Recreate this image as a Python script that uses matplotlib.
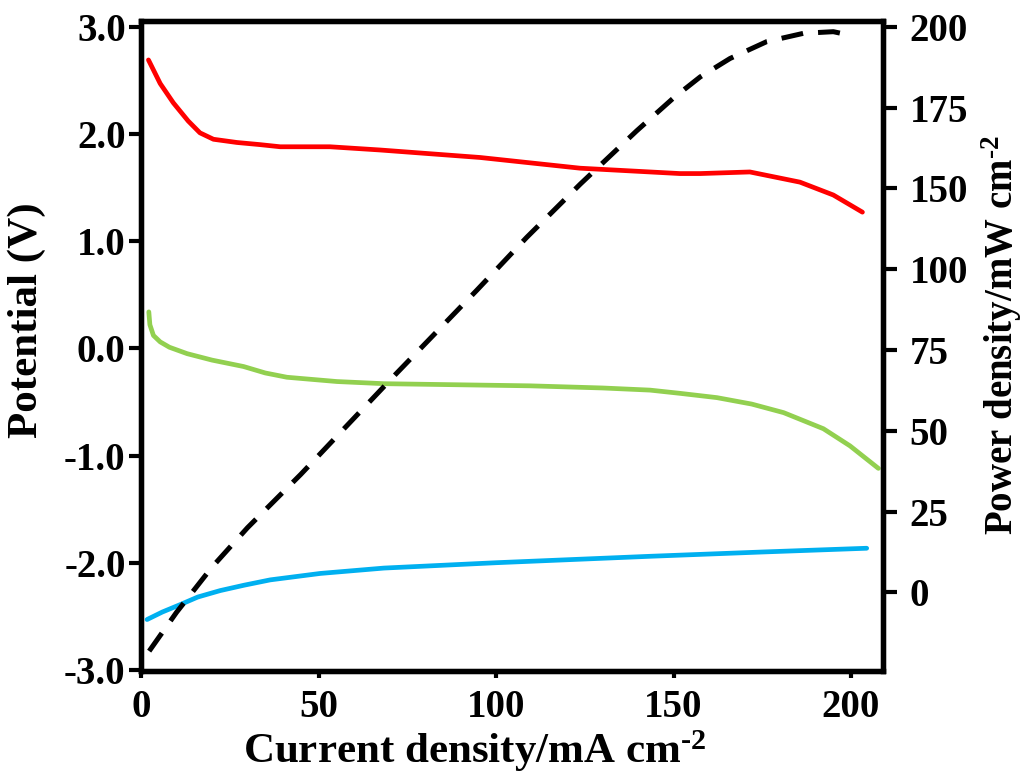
import matplotlib
matplotlib.use("Agg")
import matplotlib.pyplot as plt
from matplotlib.ticker import FormatStrFormatter

plt.rcParams['font.family'] = ['Liberation Serif', 'DejaVu Serif']
plt.rcParams['font.weight'] = 'bold'
plt.rcParams['axes.unicode_minus'] = False
plt.rcParams['mathtext.fontset'] = 'custom'
plt.rcParams['mathtext.rm'] = 'Liberation Serif:bold'
plt.rcParams['mathtext.default'] = 'rm'

# cell potential curves (V) vs current density (mA cm-2)
red_x = [2.1, 5.4, 9.1, 13.3, 16.6, 20.4, 27.0, 33.5, 39.2, 53.2, 67.3, 95.5, 123.7, 151.8, 157.5, 171.5, 185.6, 195.0, 203.2]
red_v = [2.69, 2.47, 2.29, 2.12, 2.01, 1.95, 1.92, 1.90, 1.88, 1.88, 1.85, 1.78, 1.68, 1.63, 1.63, 1.645, 1.55, 1.43, 1.27]

green_x = [2.2, 2.5, 3.5, 5.4, 8.0, 13.0, 20.0, 28.9, 35.0, 41.1, 55.2, 68.4, 109.6, 130.0, 143.4, 151.8, 162.2, 172.0, 181.0, 192.2, 199.7, 207.7]
green_v = [0.34, 0.22, 0.12, 0.06, 0.01, -0.05, -0.11, -0.17, -0.23, -0.27, -0.31, -0.33, -0.35, -0.37, -0.39, -0.42, -0.46, -0.52, -0.60, -0.75, -0.91, -1.12]

blue_x = [1.7, 6.0, 11.1, 16.0, 22.3, 29.0, 36.4, 50.5, 68.4, 100.0, 143.4, 175.0, 204.4]
blue_v = [-2.53, -2.46, -2.39, -2.32, -2.26, -2.21, -2.16, -2.10, -2.05, -2.00, -1.94, -1.90, -1.865]

# power density curve (right axis units)
power_x = [2.3, 10.0, 20.0, 30.0, 45.0, 57.5, 72.0, 94.6, 108.6, 123.7, 139.6, 150.0, 157.5, 165.9, 176.2, 186.6, 195.0, 199.7]
power_y = [-18.2, -6.2, 7.8, 20.0, 36.5, 51.0, 67.8, 93.5, 109.8, 126.3, 142.8, 153.0, 159.5, 165.2, 170.4, 173.0, 173.5, 172.4]

left_ticks = [-3.0, -2.0, -1.0, 0.0, 1.0, 2.0, 3.0]
x_ticks = [0, 50, 100, 150, 200]
right_tick_pos = [0, 25, 50, 75, 100, 125, 150, 175]
right_tick_labels = ['0', '25', '50', '75', '100', '150', '175', '200']

fig = plt.figure(figsize=(10.27, 7.75), dpi=100)
ax = fig.add_axes([0.1373, 0.1342, 0.7225, 0.8391])
ax2 = ax.twinx()

ax.plot(red_x, red_v, color='#ff0000', lw=3.4, solid_capstyle='round', solid_joinstyle='round')
ax.plot(green_x, green_v, color='#92d050', lw=3.4, solid_capstyle='round', solid_joinstyle='round')
ax.plot(blue_x, blue_v, color='#00b0f0', lw=3.4, solid_capstyle='round', solid_joinstyle='round')
ax2.plot(power_x, power_y, color='black', lw=3.6, dashes=(4.4, 3.0))

ax.set_xlim(0, 209)
ax.set_ylim(-3.01, 3.056)
ax2.set_ylim(-24.35, 176.9)

ax.set_xticks(x_ticks)
ax.set_yticks(left_ticks)
ax.yaxis.set_major_formatter(FormatStrFormatter('%.1f'))
ax2.set_yticks(right_tick_pos)
ax2.set_yticklabels(right_tick_labels)

for a in (ax, ax2):
    for s in a.spines.values():
        s.set_linewidth(3.8)

ax.tick_params(axis='y', direction='out', length=9, width=3, labelsize=28, pad=2)
ax.tick_params(axis='x', direction='out', length=5, width=3, labelsize=28, pad=8)
ax2.tick_params(axis='y', direction='out', length=10, width=3, labelsize=28, pad=9)

ax.set_xlabel('Current density/mA cm$^{\\text{-2}}$', fontsize=31, fontweight='bold')
ax.set_ylabel('Potential (V)', fontsize=31, fontweight='bold')
ax2.set_ylabel('Power density/mW cm$^{\\text{-2}}$', fontsize=28, fontweight='bold')
ax.xaxis.set_label_coords(0.45, -0.088)
ax.yaxis.set_label_coords(-0.128, 0.54)
ax2.yaxis.set_label_coords(1.13, 0.517)

fig.savefig('out.png', dpi=100)
